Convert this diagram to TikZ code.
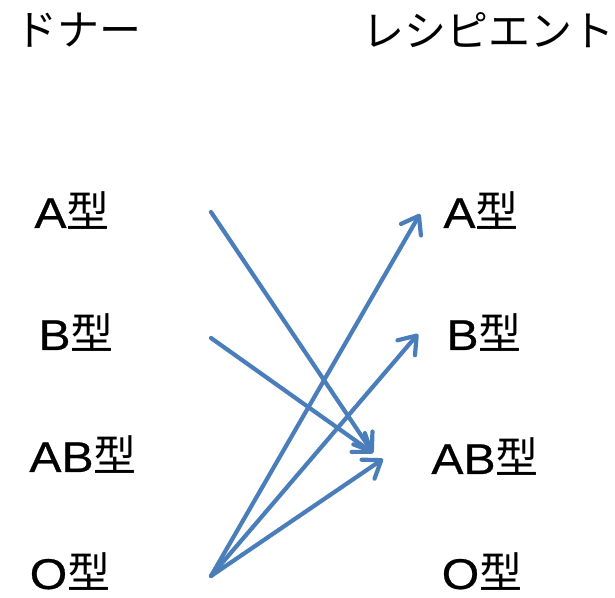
\documentclass[tikz,border=0pt]{standalone}
\usepackage{fontspec}
\setmainfont{Noto Sans CJK JP}
\newfontfamily\latwide[FakeStretch=1.12,FakeBold=0.6]{Liberation Sans}
\usetikzlibrary{arrows.meta}
\begin{document}
\begin{tikzpicture}[x=1pt,y=-1pt,
  lbl/.style={font=\fontsize{43}{46}\selectfont, inner sep=0pt},
  ttl/.style={font=\fontsize{42}{44}\selectfont, inner sep=0pt},
  conn/.style={draw={rgb,255:red,74;green,126;blue,187}, line width=4.2pt, line cap=round,
    -{Straight Barb[length=16pt,width=23pt,line cap=round,line join=round]}}]
\useasboundingbox (0,0) rectangle (615,597);
\fill[white] (0,0) rectangle (615,597);
\node[ttl] (donor) at (78,30) {ドナー};
\node[ttl] (recip) at (488,30) {レシピエント};
\node[lbl] (dA) at (72,211) {{\latwide A}型};
\node[lbl] (dB) at (76,333) {{\latwide B}型};
\node[lbl] (dAB) at (83,455) {{\latwide AB}型};
\node[lbl] (dO) at (70,572) {{\latwide O}型};
\node[lbl] (rA) at (481,211) {{\latwide A}型};
\node[lbl] (rB) at (484,333) {{\latwide B}型};
\node[lbl] (rAB) at (485,457) {{\latwide AB}型};
\node[lbl] (rO) at (482,572) {{\latwide O}型};
\coordinate (sA) at (211,212);
\coordinate (sB) at (211,338);
\coordinate (sO) at (211,576);
\coordinate (tA) at (420,214);
\coordinate (tB) at (418,334);
\coordinate (tAB1) at (373,453);
\coordinate (tAB2) at (383,459);
\draw[conn] (sA) -- (tAB1);
\draw[conn] (sB) -- (tAB1);
\draw[conn] (sO) -- (tA);
\draw[conn] (sO) -- (tB);
\draw[conn] (sO) -- (tAB2);
\end{tikzpicture}
\end{document}
